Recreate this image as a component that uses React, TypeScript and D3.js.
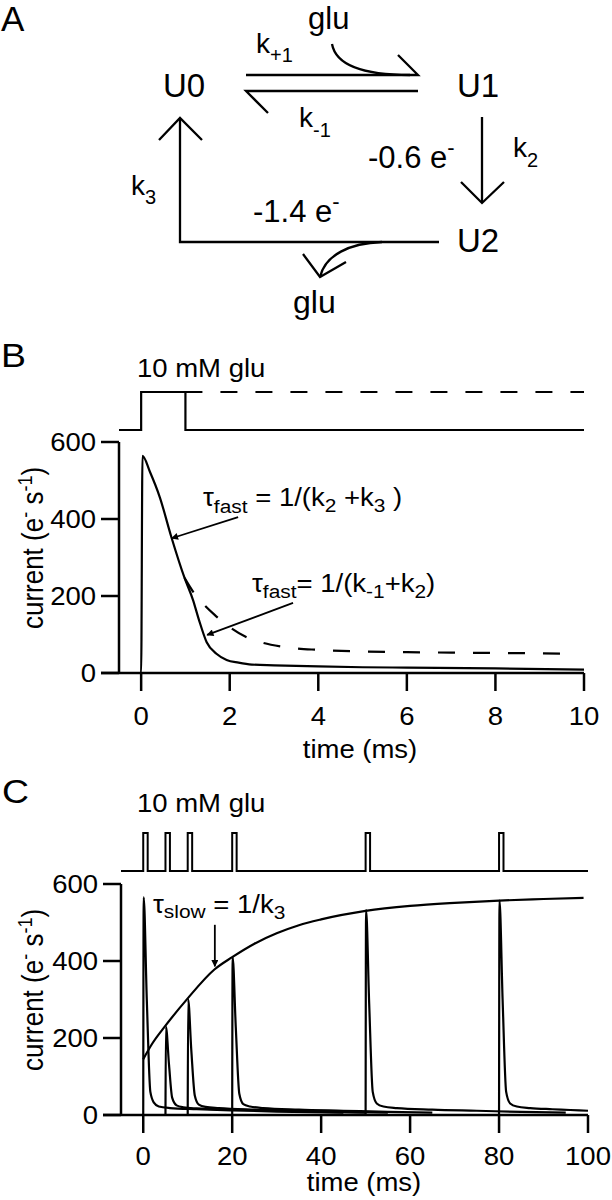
import * as d3 from "d3"

const FONT = "'Liberation Sans', Arial, Helvetica, sans-serif"
const SX = 1.1 // panels B and C are slightly wider than tall

// ---- panel B : single 1 ms pulse ----
const bTicksX = [0, 2, 4, 6, 8, 10]
const yTicks = [0, 200, 400, 600]
const bStimTime = [-0.5, 0, 0, 1, 1, 10]
const bStimLevel = [0, 0, 1, 1, 0, 0]
const bHeldTime = [1, 10]
const bHeldLevel = [1, 1]
const bSolidTime = [-0.5, 0, 0.03, 0.2, 0.42, 0.68, 0.98, 1.17, 1.3, 1.48, 1.7, 1.93, 2.2, 2.5, 3, 4, 5, 6, 8, 10]
const bSolidValue = [0, 0, 564, 522, 457, 354, 247, 190, 140, 80, 50, 34, 27, 22, 20, 17, 15, 14, 12, 9]
const bDashTime = [0.98, 1.21, 1.44, 1.66, 2.0, 2.36, 2.7, 3.2, 4, 5, 6, 7, 8, 9, 9.7]
const bDashValue = [247, 205, 175, 151, 119, 94, 80, 68, 60, 56, 54, 53, 52, 51, 50]

// ---- panel C : pulse train ----
const cTicksX = [0, 20, 40, 60, 80, 100]
const cPulseStart = [0, 5, 10, 20, 50, 80]
const cPulseWidth = 1
const cEnvTime = [0, 2, 5, 10, 16, 20, 25, 30, 35, 40, 50, 60, 70, 80, 90, 99]
const cEnvValue = [145, 185, 232, 303, 378, 410, 445, 472, 493, 508, 530, 543, 551, 557, 561, 564]
const cTraceTime = [
  [0, 0.1, 0.8, 1.6, 2.4, 3.5, 6, 12, 20, 30, 45],
  [5, 5.1, 5.8, 6.5, 7.5, 9, 12, 20, 30, 40, 50],
  [10, 10.1, 10.8, 11.6, 12.5, 14, 17, 25, 35, 45, 55],
  [20, 20.1, 20.8, 21.6, 22.5, 24, 27, 35, 45, 55, 65],
  [50, 50.1, 50.8, 51.6, 52.5, 54, 57, 65, 75, 85, 95],
  [80, 80.1, 80.8, 81.6, 82.5, 84, 87, 92, 96, 100],
]
const cTraceValue = [
  [0, 565, 300, 60, 32, 22, 18, 15, 12, 9, 6],
  [0, 229, 130, 45, 25, 20, 17, 14, 11, 8, 6],
  [0, 300, 170, 50, 27, 21, 18, 14, 11, 8, 6],
  [0, 410, 230, 55, 28, 22, 18, 14, 11, 8, 6],
  [0, 532, 290, 60, 30, 22, 18, 14, 11, 8, 6],
  [0, 557, 300, 60, 30, 22, 18, 15, 13, 11],
]

type Pt = [number, number]

const xB = d3.scaleLinear().domain([-0.5, 10]).range([119, 584])
const yB = d3.scaleLinear().domain([0, 600]).range([673, 442])
const sB = d3.scaleLinear().domain([0, 1]).range([430, 392])

const xC = d3.scaleLinear().domain([-5, 100]).range([121, 588])
const yC = d3.scaleLinear().domain([0, 600]).range([1115, 884])
const sC = d3.scaleLinear().domain([0, 1]).range([871, 833])

function T({ x, y, size, sx = 1, anchor = "start", rot = 0, children }: any) {
  return (
    <text
      transform={`translate(${x},${y}) scale(${sx},1)${rot ? ` rotate(${rot})` : ""}`}
      fontSize={size}
      textAnchor={anchor}
      fontFamily={FONT}
      fill="#000"
    >
      {children}
    </text>
  )
}

function Axes({ x, y, xTicks, labelY, titleX, titleY, ylabY }: any) {
  const x0 = x.range()[0]
  const xl = x0 - 18
  const y0 = y(0)
  return (
    <g stroke="#000" strokeWidth={2.5} fill="none">
      <line x1={xl} x2={x.range()[1]} y1={y0} y2={y0} />
      <line x1={x0} x2={x0} y1={y0} y2={y(600)} />
      {yTicks.map((t) => (
        <g key={"y" + t}>
          <line x1={xl} x2={x0} y1={y(t)} y2={y(t)} />
          <g stroke="none">
            <T x={xl - 5} y={y(t) + 9} size={25} sx={SX} anchor="end">{t}</T>
          </g>
        </g>
      ))}
      {xTicks.map((t: number) => (
        <g key={"x" + t}>
          <line x1={x(t)} x2={x(t)} y1={y0} y2={y0 + 18} />
          <g stroke="none">
            <T x={x(t)} y={labelY} size={25} sx={SX} anchor="middle">{t}</T>
          </g>
        </g>
      ))}
      <g stroke="none">
        <T x={titleX} y={titleY} size={25} sx={SX} anchor="middle">time (ms)</T>
        <T x={43} y={ylabY} size={26} sx={SX} anchor="middle" rot={-90}>
          {"current (e"}
          <tspan dy={-10} fontSize={18}>-</tspan>
          <tspan dy={10}>{" s"}</tspan>
          <tspan dy={-10} fontSize={18}>-1</tspan>
          <tspan dy={10}>)</tspan>
        </T>
      </g>
    </g>
  )
}

function PanelA() {
  const st = { stroke: "#000", strokeWidth: 2.3, fill: "none" }
  return (
    <g>
      <T x={1} y={31} size={35}>A</T>
      <T x={163} y={97} size={33}>U0</T>
      <T x={457} y={97} size={33}>U1</T>
      <T x={457} y={252} size={33}>U2</T>
      <T x={308} y={29} size={31}>glu</T>
      <T x={293} y={313} size={32}>glu</T>
      <path {...st} d="M332,44 C336,66 365,75 410,75" />
      <path {...st} d="M246,75 L418,75 L398,55" />
      <path {...st} d="M418,91 L246,91 L268,113" />
      <path {...st} d="M482,117 L482,202" />
      <path {...st} d="M461,182 L482,203 L504,182" />
      <path {...st} d="M439,242 L180,242 L180,118" />
      <path {...st} d="M159,140 L180,118 L202,140" />
      <path {...st} d="M382,242 C350,243 325,255 320,277" />
      <path {...st} d="M303,254 L320,277 L346,262" />
      <T x={256} y={53} size={28}>k<tspan dy={9} fontSize={20}>+1</tspan></T>
      <T x={299} y={127} size={28}>k<tspan dy={10} fontSize={20}>-1</tspan></T>
      <T x={513} y={157} size={28}>k<tspan dy={10} fontSize={20}>2</tspan></T>
      <T x={131} y={195} size={28}>k<tspan dy={9} fontSize={20}>3</tspan></T>
      <T x={368} y={168} size={31}>-0.6 e<tspan dy={-13} fontSize={22}>-</tspan></T>
      <T x={253} y={222} size={31}>-1.4 e<tspan dy={-13} fontSize={22}>-</tspan></T>
    </g>
  )
}

function PanelB() {
  const stim = d3.line<Pt>().x((d) => xB(d[0])).y((d) => sB(d[1]))
  const trace = d3.line<Pt>().x((d) => xB(d[0])).y((d) => yB(d[1])).curve(d3.curveMonotoneX)
  const ln = { stroke: "#000", strokeWidth: 2.2, fill: "none" }
  return (
    <g>
      <T x={1} y={367} size={34} sx={SX}>B</T>
      <T x={137} y={377} size={25} sx={SX}>10 mM glu</T>
      <path {...ln} d={stim(d3.zip(bStimTime, bStimLevel) as Pt[])!} />
      <path {...ln} strokeDasharray="17 18" d={stim(d3.zip(bHeldTime, bHeldLevel) as Pt[])!} />
      <Axes x={xB} y={yB} xTicks={bTicksX} labelY={725} titleX={360} titleY={758} ylabY={548} />
      <path {...ln} d={trace(d3.zip(bSolidTime, bSolidValue) as Pt[])!} />
      <path {...ln} strokeDasharray="17 18" d={trace(d3.zip(bDashTime, bDashValue) as Pt[])!} />
      <line x1={xB(2.19)} y1={yB(405)} x2={xB(0.69)} y2={yB(350)} stroke="#000" strokeWidth={1.8} markerEnd="url(#ah)" />
      <line x1={xB(3.43)} y1={yB(182)} x2={xB(1.49)} y2={yB(99)} stroke="#000" strokeWidth={1.8} markerEnd="url(#ah)" />
      <T x={203} y={506} size={25} sx={SX}>
        τ<tspan dy={7} fontSize={19}>fast</tspan>
        <tspan dy={-7}>{" = 1/(k"}</tspan>
        <tspan dy={6} fontSize={19}>2</tspan>
        <tspan dy={-6}>{" +k"}</tspan>
        <tspan dy={6} fontSize={19}>3</tspan>
        <tspan dy={-6}>{" )"}</tspan>
      </T>
      <T x={252} y={592} size={25} sx={SX}>
        τ<tspan dy={6} fontSize={19}>fast</tspan>
        <tspan dy={-6}>{"= 1/(k"}</tspan>
        <tspan dy={6} fontSize={19}>-1</tspan>
        <tspan dy={-6}>+k</tspan>
        <tspan dy={6} fontSize={19}>2</tspan>
        <tspan dy={-6}>)</tspan>
      </T>
    </g>
  )
}

function PanelC() {
  const stimPts: Pt[] = [[-5, 0]]
  cPulseStart.forEach((p) => {
    stimPts.push([p, 0], [p, 1], [p + cPulseWidth, 1], [p + cPulseWidth, 0])
  })
  stimPts.push([100, 0])
  const stim = d3.line<Pt>().x((d) => xC(d[0])).y((d) => sC(d[1]))
  const trace = d3.line<Pt>().x((d) => xC(d[0])).y((d) => yC(d[1])).curve(d3.curveMonotoneX)
  const ln = { stroke: "#000", strokeWidth: 2.2, fill: "none" }
  return (
    <g>
      <T x={2} y={803} size={34} sx={SX}>C</T>
      <T x={137} y={812} size={25} sx={SX}>10 mM glu</T>
      <path {...ln} strokeWidth={2} d={stim(stimPts)!} />
      <Axes x={xC} y={yC} xTicks={cTicksX} labelY={1165} titleX={364} titleY={1191} ylabY={990} />
      {cTraceTime.map((ts, i) => (
        <path key={i} {...ln} d={trace(d3.zip(ts, cTraceValue[i]) as Pt[])!} />
      ))}
      <path {...ln} d={trace(d3.zip(cEnvTime, cEnvValue) as Pt[])!} />
      <line x1={xC(16.1)} y1={yC(494)} x2={xC(16.1)} y2={yC(386)} stroke="#000" strokeWidth={1.8} markerEnd="url(#ah)" />
      <T x={153} y={913} size={25} sx={SX}>
        τ<tspan dy={5} fontSize={19}>slow</tspan>
        <tspan dy={-5}>{" = 1/k"}</tspan>
        <tspan dy={6} fontSize={19}>3</tspan>
      </T>
    </g>
  )
}

export default function App() {
  return (
    <div style={{ position: "absolute", left: 0, top: 0 }}>
      <svg width={612} height={1200} style={{ display: "block", background: "#fff" }}>
        <defs>
          <marker id="ah" viewBox="0 0 10 10" refX="9" refY="5" markerWidth="10" markerHeight="7" markerUnits="userSpaceOnUse" orient="auto">
            <path d="M0,0 L10,5 L0,10 z" fill="#000" />
          </marker>
        </defs>
        <PanelA />
        <PanelB />
        <PanelC />
      </svg>
    </div>
  )
}
